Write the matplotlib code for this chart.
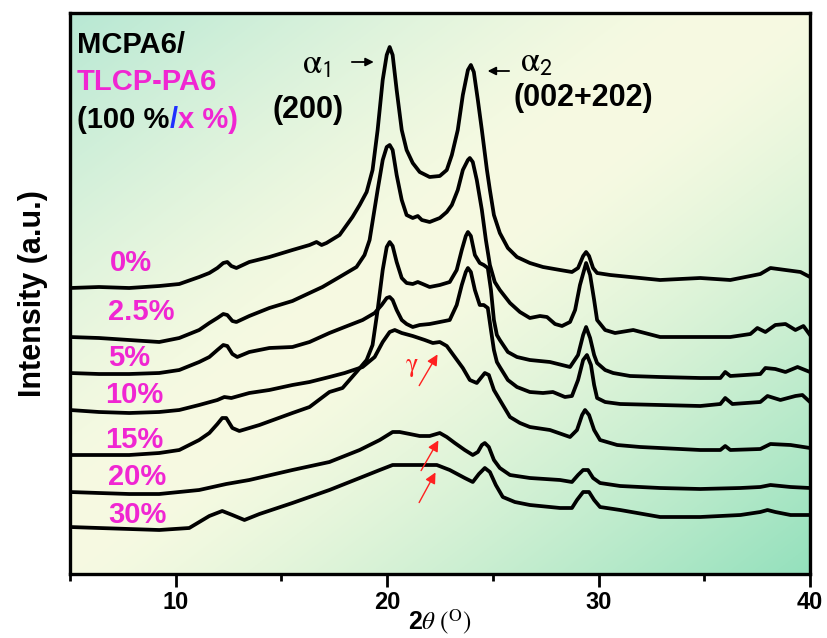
import numpy as np
import matplotlib
matplotlib.use("Agg")
import matplotlib.pyplot as plt

plt.rcParams['font.family'] = ['Liberation Sans', 'DejaVu Sans']
plt.rcParams['mathtext.fontset'] = 'stix'

# XRD patterns, (2theta in deg, stacked intensity in a.u.)
xrd_0 = [(5.0, 286), (6.37, 287), (7.8, 286), (9.22, 288), (10.17, 290), (11.11, 297), (11.59, 301),
         (11.97, 306), (12.25, 311), (12.44, 312), (12.63, 308), (12.87, 306), (13.48, 312), (14.43, 317),
         (15.52, 324), (16.33, 329), (16.66, 332), (16.9, 329), (17.13, 331), (17.75, 339), (18.36, 357),
         (18.7, 369), (19.03, 382), (19.31, 404), (19.55, 444), (19.79, 494), (19.98, 519), (20.12, 527),
         (20.26, 519), (20.45, 484), (20.69, 444), (20.92, 424), (21.21, 411), (21.54, 402), (22.01, 397),
         (22.49, 398), (22.82, 404), (23.06, 419), (23.34, 444), (23.58, 479), (23.82, 504), (23.96, 509),
         (24.1, 502), (24.29, 474), (24.48, 444), (24.72, 404), (24.86, 384), (25.05, 359), (25.33, 341),
         (25.71, 326), (26.14, 317), (26.75, 311), (27.37, 307), (28.18, 304), (28.74, 302), (29.03, 306),
         (29.27, 318), (29.41, 322), (29.55, 318), (29.74, 306), (29.93, 301), (30.55, 299), (31.49, 297),
         (32.91, 294), (34.81, 296), (36.23, 294), (37.18, 298), (37.65, 300), (38.13, 306), (38.84, 304),
         (39.55, 302), (40.0, 297)]

xrd_2p5 = [(5.0, 237), (6.37, 236), (7.8, 234), (9.22, 232), (10.17, 236), (11.11, 244), (11.59, 251),
           (11.97, 256), (12.25, 260), (12.44, 259), (12.68, 253), (12.87, 252), (13.48, 258), (14.43, 266),
           (15.52, 273), (16.33, 281), (16.94, 287), (17.75, 297), (18.55, 307), (18.93, 319), (19.17, 334),
           (19.36, 359), (19.55, 384), (19.79, 414), (19.98, 427), (20.12, 429), (20.26, 424), (20.45, 399),
           (20.69, 374), (20.92, 359), (21.21, 356), (21.45, 358), (21.64, 354), (22.01, 352), (22.49, 356),
           (22.82, 362), (23.06, 369), (23.34, 384), (23.58, 404), (23.82, 414), (23.91, 416), (24.05, 412),
           (24.24, 394), (24.48, 364), (24.67, 334), (24.86, 309), (25.09, 292), (25.33, 284), (25.81, 271),
           (26.28, 262), (26.75, 256), (27.23, 258), (27.56, 257), (27.94, 250), (28.27, 248), (28.65, 252),
           (28.89, 264), (29.12, 289), (29.41, 311), (29.6, 299), (29.79, 274), (29.93, 254), (30.31, 244),
           (30.78, 241), (31.64, 244), (32.91, 237), (34.81, 237), (36.23, 237), (37.18, 240), (37.51, 246),
           (37.89, 242), (38.36, 249), (38.84, 250), (39.31, 244), (39.69, 248), (40.0, 239)]

xrd_5 = [(5.0, 201), (6.37, 200), (7.8, 200), (9.22, 201), (10.17, 204), (11.11, 212), (11.59, 217),
         (11.97, 224), (12.25, 229), (12.44, 228), (12.68, 220), (12.91, 217), (13.48, 222), (14.43, 226),
         (15.52, 227), (16.33, 232), (17.27, 241), (17.99, 247), (18.84, 254), (19.41, 261), (19.74, 269),
         (19.98, 276), (20.12, 277), (20.26, 274), (20.45, 264), (20.69, 254), (20.92, 250), (21.21, 247),
         (21.54, 249), (22.01, 250), (22.49, 252), (22.96, 254), (23.29, 269), (23.53, 289), (23.72, 302),
         (23.82, 306), (23.96, 302), (24.15, 284), (24.38, 269), (24.57, 269), (24.76, 266), (24.91, 244),
         (25.05, 224), (25.19, 212), (25.33, 207), (25.71, 194), (26.14, 187), (26.75, 182), (27.37, 181),
         (27.84, 182), (28.41, 177), (28.74, 178), (29.03, 194), (29.27, 214), (29.45, 219), (29.64, 209),
         (29.79, 189), (29.93, 176), (30.31, 172), (31.02, 170), (32.91, 169), (34.81, 168), (35.76, 170),
         (35.99, 176), (36.33, 170), (37.65, 172), (37.99, 178), (38.6, 174), (39.31, 178), (39.64, 179),
         (40.0, 172)]

xrd_10 = [(5.0, 164), (6.37, 162), (7.8, 161), (9.22, 162), (10.17, 164), (11.11, 169), (11.97, 174),
          (12.3, 177), (12.63, 176), (13.48, 181), (14.43, 184), (15.52, 189), (16.33, 192), (17.27, 197),
          (17.99, 201), (18.84, 207), (19.41, 217), (19.79, 232), (20.12, 242), (20.36, 244), (20.69, 241),
          (21.21, 238), (21.78, 234), (22.16, 231), (22.49, 232), (22.82, 228), (23.2, 217), (23.58, 206),
          (23.91, 194), (24.24, 191), (24.43, 196), (24.62, 201), (24.81, 199), (25.05, 184), (25.33, 174),
          (25.81, 157), (26.28, 151), (26.75, 147), (27.7, 144), (28.65, 137), (28.98, 144), (29.22, 159),
          (29.36, 164), (29.55, 159), (29.79, 144), (30.07, 134), (30.88, 129), (31.97, 127), (32.91, 126),
          (34.81, 124), (35.76, 124), (35.99, 128), (36.23, 124), (37.65, 125), (38.13, 130), (39.08, 129),
          (40.0, 126)]

xrd_15 = [(5.0, 119), (6.37, 119), (7.8, 119), (9.22, 121), (10.17, 124), (11.11, 134), (11.59, 141),
          (11.97, 150), (12.2, 156), (12.39, 156), (12.68, 146), (13.01, 143), (13.96, 149), (15.52, 161),
          (16.33, 167), (17.27, 182), (17.89, 186), (18.55, 202), (19.03, 214), (19.31, 229), (19.55, 264),
          (19.79, 304), (19.98, 327), (20.12, 332), (20.26, 328), (20.45, 312), (20.69, 296), (20.92, 291),
          (21.21, 290), (21.45, 292), (21.68, 290), (22.01, 287), (22.49, 289), (22.96, 292), (23.29, 304),
          (23.53, 324), (23.72, 338), (23.82, 342), (23.96, 338), (24.15, 319), (24.38, 311), (24.57, 309),
          (24.76, 306), (24.91, 284), (25.05, 254), (25.19, 239), (25.33, 234), (25.71, 222), (26.14, 217),
          (26.75, 214), (27.7, 212), (28.65, 207), (29.03, 219), (29.27, 239), (29.41, 247), (29.6, 236),
          (29.79, 219), (29.93, 211), (30.31, 204), (30.69, 201), (31.49, 198), (32.91, 197), (34.81, 196),
          (35.76, 196), (35.99, 202), (36.23, 198), (37.65, 200), (37.89, 206), (38.36, 205), (38.84, 202),
          (39.41, 207), (40.0, 202)]

xrd_20 = [(5.0, 82), (6.37, 81), (7.8, 80), (9.22, 80), (11.11, 84), (12.39, 90), (13.48, 94), (15.52, 104),
          (17.27, 112), (18.7, 124), (19.65, 134), (20.26, 142), (20.59, 142), (21.07, 140), (21.54, 138),
          (22.01, 138), (22.49, 141), (22.82, 137), (23.2, 131), (23.67, 124), (24.05, 119), (24.29, 122),
          (24.48, 129), (24.62, 131), (24.81, 127), (25.05, 114), (25.33, 106), (25.81, 99), (26.75, 96),
          (28.18, 94), (28.74, 92), (29.03, 99), (29.27, 104), (29.5, 104), (29.74, 96), (30.07, 91),
          (31.02, 88), (32.91, 86), (34.81, 85), (36.71, 86), (37.65, 87), (38.13, 89), (39.08, 87), (40.0, 86)]

xrd_30 = [(5.0, 47), (6.37, 46), (7.8, 45), (9.22, 44), (10.64, 46), (11.59, 58), (12.2, 63), (12.68, 59),
          (13.25, 54), (13.96, 60), (15.52, 71), (17.27, 84), (18.7, 96), (19.65, 104), (20.26, 109),
          (21.07, 109), (22.35, 109), (22.96, 104), (23.67, 96), (24.05, 92), (24.34, 100), (24.62, 106),
          (24.86, 102), (25.14, 89), (25.47, 77), (26.04, 72), (26.75, 69), (28.18, 66), (28.74, 66),
          (28.98, 74), (29.27, 82), (29.55, 82), (29.79, 74), (30.07, 67), (31.02, 64), (32.91, 57),
          (34.81, 57), (36.71, 59), (37.65, 62), (37.99, 64), (38.36, 62), (39.08, 59), (40.0, 59)]

patterns = [xrd_0, xrd_2p5, xrd_5, xrd_10, xrd_15, xrd_20, xrd_30]
labels = ['0%', '2.5%', '5%', '10%', '15%', '20%', '30%']
label_y = [263, 312, 358, 395, 440, 477, 515]   # pixel rows of the labels
label_x = [110, 108, 108, 105, 105, 108, 108]

W, H = 827, 638
fig = plt.figure(figsize=(W / 100, H / 100), dpi=100)
ax = fig.add_axes([70 / W, 1 - 574 / H, 740 / W, 561 / H])

# diagonal green / pale-yellow background
u = np.linspace(0, 1, 300)
v = np.linspace(0, 1, 300)
U, V = np.meshgrid(u, v)          # V: 0 at top row
s = (U + V) / 2
w_tl = np.clip((0.42 - s) / 0.42, 0, 1) ** 1.3
w_br = np.clip((s - 0.5) / 0.5, 0, 1) ** 1.3
pale = np.array([0.965, 0.98, 0.885])
tl = np.array([0.72, 0.91, 0.83])
br = np.array([0.58, 0.88, 0.74])
img = pale * (1 - w_tl - w_br)[..., None] + tl * w_tl[..., None] + br * w_br[..., None]
ax.imshow(img, extent=[0, 1, 0, 1], transform=ax.transAxes, aspect='auto', zorder=0, origin='upper')

for pat in patterns:
    tt, inten = np.array(pat).T
    ax.plot(tt, inten, color='black', lw=2.7, solid_joinstyle='round', zorder=3)

ax.set_xlim(5, 40)
ax.set_ylim(0, 561)
ax.set_xticks([10, 20, 30, 40])
ax.set_xticks([5, 15, 25, 35], minor=True)
ax.set_yticks([])
ax.tick_params(axis='x', which='major', direction='out', length=9, width=2, labelsize=17, pad=3)
ax.tick_params(axis='x', which='minor', direction='out', length=5, width=2)
for t in ax.get_xticklabels():
    t.set_fontweight('bold')
for sp in ax.spines.values():
    sp.set_linewidth(2.4)

ax.set_xlabel(r'2$\theta\ (^{\rm O})$', fontsize=18, fontweight='bold', labelpad=-4)
ax.set_ylabel('Intensity (a.u.)', fontsize=22, fontweight='bold', labelpad=16)

magenta = '#f026d2'


def ftext(px, py, s, **kw):
    return fig.text(px / W, 1 - py / H, s, **kw)


ftext(77, 45, 'MCPA6/', fontsize=21, fontweight='bold', va='center', color='black')
ftext(77, 82, 'TLCP-PA6', fontsize=21, fontweight='bold', va='center', color=magenta)

# "(100 %/x %)" in three colours, each piece starting where the previous ends
renderer = fig.canvas.get_renderer()
x0 = 77
for piece, col in [('(100 %', 'black'), ('/', '#2030ff'), ('x %)', magenta)]:
    t = ftext(x0, 120, piece, fontsize=21, fontweight='bold', va='center', color=col)
    x0 = t.get_window_extent(renderer).x1

for lab, lx, ly in zip(labels, label_x, label_y):
    ftext(lx, ly, lab, fontsize=21, fontweight='bold', va='center', color=magenta, zorder=5)

ftext(316, 64, r'$\mathrm{\alpha}_{\mathsf{1}}$', fontsize=25, ha='center', va='center')
ftext(308, 110, '(200)', fontsize=22, fontweight='bold', ha='center', va='center')
ftext(536, 62, r'$\mathrm{\alpha}_{\mathsf{2}}$', fontsize=25, ha='center', va='center')
ftext(583, 98, '(002+202)', fontsize=22, fontweight='bold', ha='center', va='center')

ax.annotate('', xy=(19.5, 512), xytext=(18.2, 512),
            arrowprops=dict(arrowstyle='-|>', color='black', lw=1.3, mutation_scale=12))
ax.annotate('', xy=(24.62, 503), xytext=(25.9, 503),
            arrowprops=dict(arrowstyle='-|>', color='black', lw=1.3, mutation_scale=12))

red_arrows = [((21.45, 186), (22.45, 222)), ((21.54, 101), (22.49, 136)), ((21.45, 69), (22.35, 104))]
for start, end in red_arrows:
    ax.annotate('', xy=end, xytext=start,
                arrowprops=dict(arrowstyle='-|>', color='#ff2020', lw=1.0, mutation_scale=16), zorder=6)
ax.text(21.15, 207, r'$\mathrm{\gamma}$', color='#ff2020', fontsize=19, ha='center', va='center', zorder=6)

fig.savefig('out.png', dpi=100)
